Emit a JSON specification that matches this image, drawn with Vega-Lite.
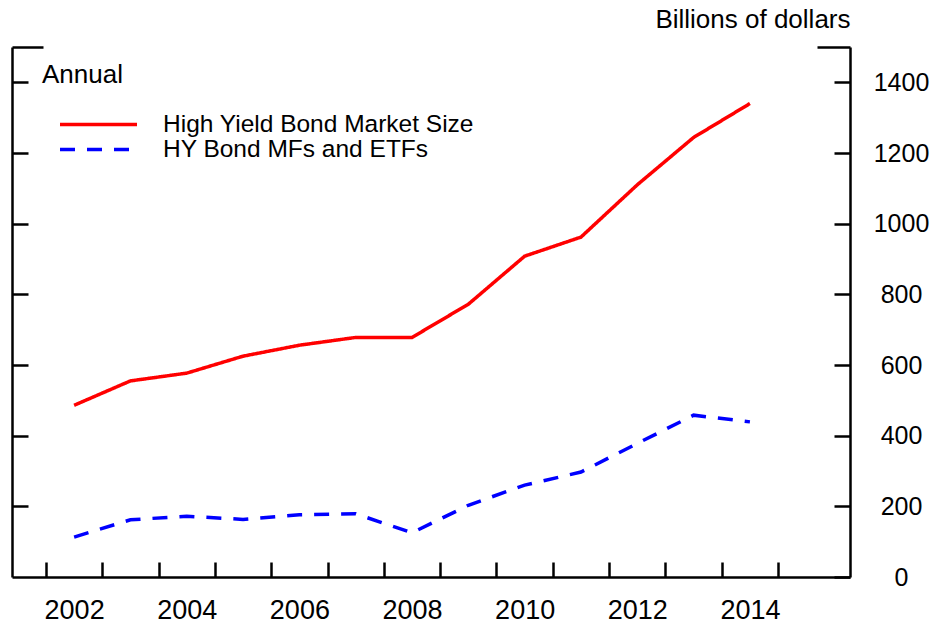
{
  "$schema": "https://vega.github.io/schema/vega-lite/v6.json",
  "width": 838,
  "height": 530,
  "autosize": {"type": "none"},
  "padding": {"left": 12, "top": 47, "right": 86, "bottom": 47},
  "background": "white",
  "config": {
    "view": {"stroke": null},
    "font": "Liberation Sans",
    "axis": {
      "grid": false,
      "domainColor": "black",
      "tickColor": "black",
      "labelColor": "black",
      "domainWidth": 2.5,
      "tickWidth": 2.5,
      "labelFont": "Liberation Sans",
      "labelFlush": false,
      "labelOverlap": false
    }
  },
  "data": {
    "values": [
      {"year": 2002, "series": "High Yield Bond Market Size", "value": 486},
      {"year": 2003, "series": "High Yield Bond Market Size", "value": 555},
      {"year": 2004, "series": "High Yield Bond Market Size", "value": 577},
      {"year": 2005, "series": "High Yield Bond Market Size", "value": 625},
      {"year": 2006, "series": "High Yield Bond Market Size", "value": 656},
      {"year": 2007, "series": "High Yield Bond Market Size", "value": 678},
      {"year": 2008, "series": "High Yield Bond Market Size", "value": 678},
      {"year": 2009, "series": "High Yield Bond Market Size", "value": 772},
      {"year": 2010, "series": "High Yield Bond Market Size", "value": 908},
      {"year": 2011, "series": "High Yield Bond Market Size", "value": 962},
      {"year": 2012, "series": "High Yield Bond Market Size", "value": 1110},
      {"year": 2013, "series": "High Yield Bond Market Size", "value": 1244},
      {"year": 2014, "series": "High Yield Bond Market Size", "value": 1340},
      {"year": 2002, "series": "HY Bond MFs and ETFs", "value": 113},
      {"year": 2003, "series": "HY Bond MFs and ETFs", "value": 162},
      {"year": 2004, "series": "HY Bond MFs and ETFs", "value": 172},
      {"year": 2005, "series": "HY Bond MFs and ETFs", "value": 163},
      {"year": 2006, "series": "HY Bond MFs and ETFs", "value": 176},
      {"year": 2007, "series": "HY Bond MFs and ETFs", "value": 179},
      {"year": 2008, "series": "HY Bond MFs and ETFs", "value": 125},
      {"year": 2009, "series": "HY Bond MFs and ETFs", "value": 203},
      {"year": 2010, "series": "HY Bond MFs and ETFs", "value": 260},
      {"year": 2011, "series": "HY Bond MFs and ETFs", "value": 297},
      {"year": 2012, "series": "HY Bond MFs and ETFs", "value": 378},
      {"year": 2013, "series": "HY Bond MFs and ETFs", "value": 458},
      {"year": 2014, "series": "HY Bond MFs and ETFs", "value": 439}
    ]
  },
  "resolve": {"axis": {"x": "independent", "y": "independent"}},
  "layer": [
    {
      "mark": {"type": "line", "strokeWidth": 3.5},
      "encoding": {
        "x": {
          "field": "year",
          "type": "quantitative",
          "scale": {"domain": [2000.897, 2015.777], "nice": false, "zero": false},
          "axis": {
            "orient": "bottom",
            "title": null,
            "values": [2001.5, 2002.5, 2003.5, 2004.5, 2005.5, 2006.5, 2007.5, 2008.5, 2009.5, 2010.5, 2011.5, 2012.5, 2013.5, 2014.5],
            "labels": false,
            "tickSize": -15,
            "domain": true
          }
        },
        "y": {
          "field": "value",
          "type": "quantitative",
          "scale": {"domain": [0, 1500], "nice": false, "zero": true},
          "axis": {
            "orient": "right",
            "title": "Billions of dollars",
            "titleAngle": 0,
            "titleX": 0,
            "titleY": -20,
            "titleAlign": "right",
            "titleBaseline": "alphabetic",
            "titleFont": "Liberation Sans",
            "titleFontSize": 26,
            "titleFontWeight": "normal",
            "titleColor": "black",
            "values": [0, 200, 400, 600, 800, 1000, 1200, 1400, 1500],
            "tickSize": {"condition": {"test": "datum.value == 1500", "value": -33}, "value": -16},
            "labelExpr": "datum.value == 1500 ? '' : format(datum.value, 'd')",
            "labelAlign": "center",
            "labelBaseline": "middle",
            "labelPadding": 67,
            "labelFontSize": 25
          }
        },
        "color": {
          "field": "series",
          "type": "nominal",
          "scale": {"domain": ["High Yield Bond Market Size", "HY Bond MFs and ETFs"], "range": ["#ff0000", "#0000ff"]},
          "legend": {
            "title": "Annual",
            "orient": "none",
            "legendX": 30,
            "legendY": 15,
            "padding": 0,
            "titleFont": "Liberation Sans",
            "titleFontSize": 26,
            "titleFontWeight": "normal",
            "titleColor": "black",
            "titlePadding": 24,
            "labelFont": "Liberation Sans",
            "labelFontSize": 24.5,
            "labelColor": "black",
            "labelLimit": 600,
            "symbolType": "stroke",
            "symbolSize": 5929,
            "symbolStrokeWidth": 3.5,
            "symbolOffset": 16,
            "labelOffset": 24,
            "clipHeight": 25,
            "rowPadding": -1
          }
        },
        "strokeDash": {
          "field": "series",
          "type": "nominal",
          "scale": {"domain": ["High Yield Bond Market Size", "HY Bond MFs and ETFs"], "range": [[1, 0], [15, 12]]},
          "legend": {
            "title": "Annual",
            "orient": "none",
            "legendX": 30,
            "legendY": 15,
            "padding": 0,
            "titleFont": "Liberation Sans",
            "titleFontSize": 26,
            "titleFontWeight": "normal",
            "titleColor": "black",
            "titlePadding": 24,
            "labelFont": "Liberation Sans",
            "labelFontSize": 24.5,
            "labelColor": "black",
            "labelLimit": 600,
            "symbolType": "stroke",
            "symbolSize": 5929,
            "symbolStrokeWidth": 3.5,
            "symbolOffset": 16,
            "labelOffset": 24,
            "clipHeight": 25,
            "rowPadding": -1
          }
        }
      }
    },
    {
      "mark": {"type": "line", "strokeOpacity": 0},
      "encoding": {
        "x": {
          "field": "year",
          "type": "quantitative",
          "scale": {"domain": [2000.897, 2015.777], "nice": false, "zero": false},
          "axis": {
            "orient": "bottom",
            "title": null,
            "values": [2002, 2004, 2006, 2008, 2010, 2012, 2014],
            "ticks": false,
            "domain": false,
            "format": "d",
            "labelBaseline": "middle",
            "labelPadding": 33,
            "labelFontSize": 27
          }
        },
        "y": {
          "field": "value",
          "type": "quantitative",
          "scale": {"domain": [0, 1500], "nice": false, "zero": true},
          "axis": {
            "orient": "left",
            "title": null,
            "values": [200, 400, 600, 800, 1000, 1200, 1400, 1500],
            "tickSize": {"condition": {"test": "datum.value == 1500", "value": -31}, "value": -16},
            "labels": false
          }
        },
        "detail": {"field": "series", "type": "nominal"}
      }
    }
  ]
}
